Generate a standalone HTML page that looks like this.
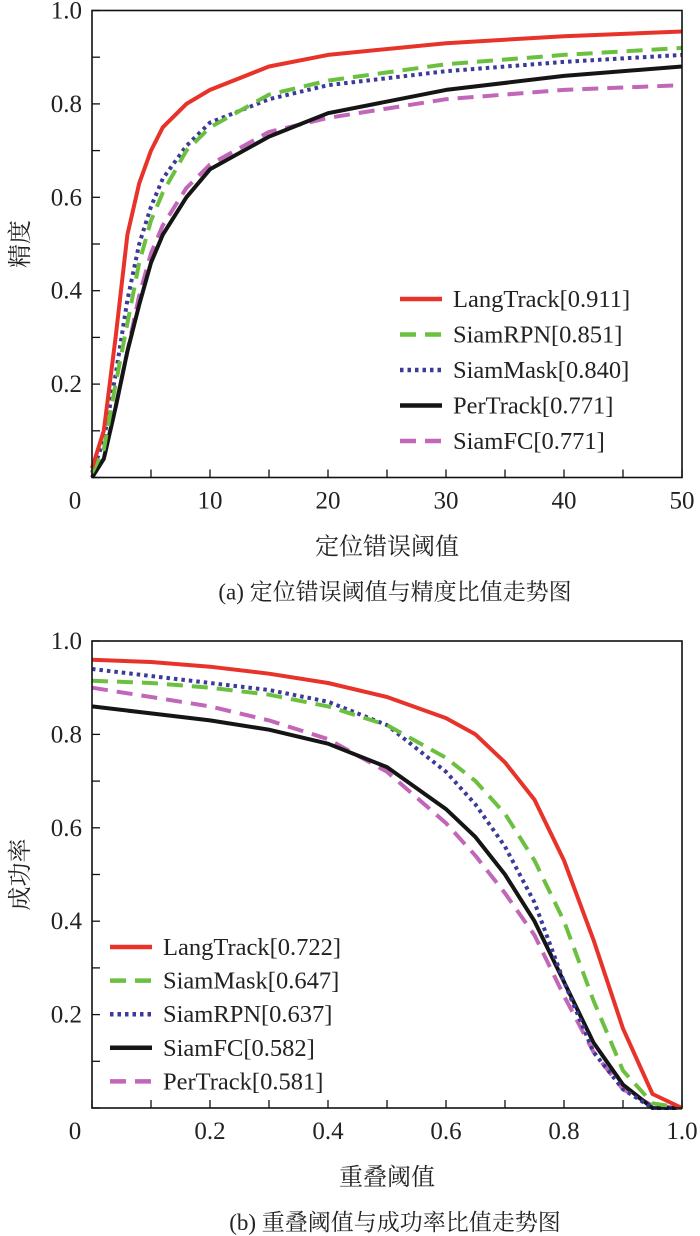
<!DOCTYPE html>
<html><head><meta charset="utf-8"><style>
html,body{margin:0;padding:0;background:#fff;}
svg{display:block;font-family:"Liberation Serif","Noto Serif CJK SC","Noto Sans CJK SC",serif;}
</style></head><body>
<svg id="root" width="700" height="1236" viewBox="0 0 700 1236" xmlns="http://www.w3.org/2000/svg">
<g id="chartA"></g>
<g id="chartB"></g>
</svg>
<script>
// ---- Chart A data ----
const aX = [0,1,2,3,4,5,6,8,10,15,20,30,40,50];
const aLang = [0.02,0.10,0.30,0.52,0.63,0.70,0.75,0.80,0.83,0.88,0.905,0.93,0.945,0.955];
const aRPN  = [0.01,0.06,0.20,0.33,0.46,0.55,0.61,0.70,0.75,0.82,0.85,0.885,0.905,0.92];
const aMask = [0.01,0.08,0.22,0.38,0.50,0.58,0.64,0.71,0.76,0.81,0.84,0.87,0.89,0.905];
const aPer  = [0.00,0.04,0.15,0.27,0.37,0.46,0.52,0.60,0.66,0.73,0.78,0.83,0.86,0.88];
const aFC   = [0.00,0.04,0.15,0.27,0.39,0.48,0.54,0.62,0.67,0.74,0.77,0.81,0.83,0.84];
const aXTicks = [0,10,20,30,40,50];
const aXLabels = ["0","10","20","30","40","50"];
const aYTicks = [0.2,0.4,0.6,0.8,1.0];
const aLegend = ["LangTrack[0.911]","SiamRPN[0.851]","SiamMask[0.840]","PerTrack[0.771]","SiamFC[0.771]"];
// ---- Chart B data ----
const bX = [0,0.1,0.2,0.3,0.4,0.5,0.6,0.65,0.7,0.75,0.8,0.85,0.9,0.95,1.0];
const bLang = [0.96,0.955,0.945,0.93,0.91,0.88,0.835,0.80,0.74,0.66,0.53,0.36,0.17,0.03,0];
const bMask = [0.915,0.91,0.90,0.885,0.86,0.82,0.75,0.70,0.63,0.53,0.40,0.23,0.08,0.01,0];
const bRPN  = [0.94,0.925,0.91,0.895,0.87,0.82,0.72,0.65,0.56,0.44,0.27,0.12,0.04,0,0];
const bFC   = [0.86,0.845,0.83,0.81,0.78,0.73,0.64,0.58,0.50,0.40,0.27,0.14,0.05,0,0];
const bPer  = [0.90,0.88,0.86,0.83,0.79,0.72,0.61,0.54,0.46,0.37,0.24,0.12,0.04,0.005,0];
const bXTicks = [0,0.2,0.4,0.6,0.8,1.0];
const bXLabels = ["0","0.2","0.4","0.6","0.8","1.0"];
const bYTicks = [0.2,0.4,0.6,0.8,1.0];
const bLegend = ["LangTrack[0.722]","SiamMask[0.647]","SiamRPN[0.637]","SiamFC[0.582]","PerTrack[0.581]"];

const NS="http://www.w3.org/2000/svg";
const ST={
 red:{c:"#e8332a",d:null},
 green:{c:"#6cc040",d:"16 9"},
 blue:{c:"#3b3a98",d:"3.5 4"},
 black:{c:"#151515",d:null},
 mag:{c:"#c266b9",d:"16 9"}
};
function el(p,t,a){const e=document.createElementNS(NS,t);for(const k in a)e.setAttribute(k,a[k]);p.appendChild(e);return e;}

function chart(g,o){
 const L=92,R=682,T=o.top,B=o.top+467;
 const sx=v=>L+(v-o.xmin)/(o.xmax-o.xmin)*(R-L);
 const sy=v=>B-v*(B-T);
 for(let i=0;i<=10;i++){
  const xv=o.xmin+i*(o.xmax-o.xmin)/10, x=sx(xv);
  const t=el(g,"line",{x1:x,x2:x,y1:B,y2:B-8,stroke:"#111","stroke-width":1.3});
  
  
  const yv=i/10, y=sy(yv);
  const u=el(g,"line",{x1:L,x2:L+8,y1:y,y2:y,stroke:"#111","stroke-width":1.3});
  
  
 }
 o.xt.forEach((v,i)=>{const t=el(g,"text",{x:sx(v)-(v===o.xmin?17:0),y:B+31,"text-anchor":"middle","font-size":25,fill:"#222"});t.textContent=o.xl[i];
  
  });
 o.yt.forEach(v=>{const t=el(g,"text",{x:L-10,y:sy(v)+8,"text-anchor":"end","font-size":25,fill:"#222"});t.textContent=v.toFixed(1);
  
  });
 o.series.forEach(s=>{
  const st=ST[s.st];
  const d=o.x.map((v,i)=>(i?"L":"M")+sx(v).toFixed(1)+" "+sy(s.v[i]).toFixed(1)).join(" ");
  const a={d:d,fill:"none",stroke:st.c,"stroke-width":4,"stroke-linejoin":"round"};
  if(st.d)a["stroke-dasharray"]=st.d;
  const p=el(g,"path",a);
  
  
 });
 const f=el(g,"rect",{x:L,y:T,width:R-L,height:B-T,fill:"none",stroke:"#111","stroke-width":1.6});
 
 
 o.legend.forEach((txt,i)=>{
  const st=ST[o.lst[i]], y=o.ly+i*o.lstep;
  const a={x1:o.lx,x2:o.lx+42,y1:y,y2:y,stroke:st.c,"stroke-width":4.5};
  if(st.d)a["stroke-dasharray"]=o.lst[i]==="blue"?"3.5 4":"16 9";
  const l=el(g,"line",a);
  
  
  const t=el(g,"text",{x:o.lx+53,y:y+8,"font-size":24.5,fill:"#222"});t.textContent=txt;
  
  
 });
 const yt=el(g,"text",{x:0,y:0,"font-size":24,fill:"#222","text-anchor":"middle",transform:`translate(28 ${(T+B)/2}) rotate(-90)`});yt.textContent=o.ytitle;
 
 
 const xt=el(g,"text",{x:387,y:B+77,"font-size":24,fill:"#222","text-anchor":"middle"});xt.textContent=o.xtitle;
 
 
 const cp=el(g,"text",{x:395,y:B+122,"font-size":23,fill:"#222","text-anchor":"middle"});cp.textContent=o.caption;
 
 
}
chart(document.getElementById("chartA"),{top:10.5,xmin:0,xmax:50,x:aX,xt:aXTicks,xl:aXLabels,yt:aYTicks,
 series:[{name:"siamfc",v:aFC,st:"mag"},{name:"pertrack",v:aPer,st:"black"},{name:"siammask",v:aMask,st:"blue"},{name:"siamrpn",v:aRPN,st:"green"},{name:"langtrack",v:aLang,st:"red"}],
 legend:aLegend,lst:["red","green","blue","black","mag"],lx:400,ly:299,lstep:35.5,
 ytitle:"精度",xtitle:"定位错误阈值",caption:"(a) 定位错误阈值与精度比值走势图"});
chart(document.getElementById("chartB"),{top:641,xmin:0,xmax:1,x:bX,xt:bXTicks,xl:bXLabels,yt:bYTicks,
 series:[{name:"pertrack",v:bPer,st:"mag"},{name:"siamfc",v:bFC,st:"black"},{name:"siamrpn",v:bRPN,st:"blue"},{name:"siammask",v:bMask,st:"green"},{name:"langtrack",v:bLang,st:"red"}],
 legend:bLegend,lst:["red","green","blue","black","mag"],lx:110,ly:947,lstep:33.6,
 ytitle:"成功率",xtitle:"重叠阈值",caption:"(b) 重叠阈值与成功率比值走势图"});
</script>
</body></html>
